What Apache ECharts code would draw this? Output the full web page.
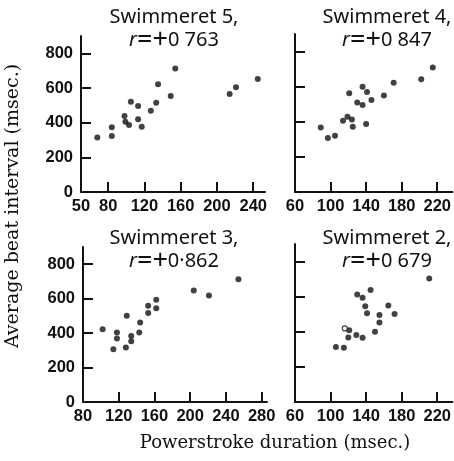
<!DOCTYPE html>
<html>
<head>
<meta charset="utf-8">
<script src="https://cdn.jsdelivr.net/npm/echarts@6.0.0/dist/echarts.min.js"></script>
<style>
  html, body { margin: 0; padding: 0; background: #fff; }
  #main { width: 454px; height: 461px; }
</style>
</head>
<body>
<div id="main"></div>
<script>
// powerstroke duration (x) vs average beat interval (y), msec
var s5x = [68, 84, 84, 98, 99, 103, 105, 113, 113, 117, 127, 133, 135, 149, 154, 214, 221, 245];
var s5y = [315, 373, 323, 438, 405, 386, 521, 496, 419, 377, 469, 515, 621, 554, 713, 565, 604, 652];
var s4x = [89, 97, 105, 114, 119, 121, 124, 125, 130, 136, 136, 141, 140, 146, 160, 171, 202, 215];
var s4y = [368, 307, 320, 406, 429, 562, 413, 371, 510, 495, 600, 570, 387, 524, 549, 623, 642, 709];
var s3x = [102, 114, 118, 118, 128, 129, 134, 134, 143, 144, 153, 153, 162, 162, 204, 221, 254];
var s3y = [423, 307, 404, 369, 316, 501, 383, 353, 404, 462, 559, 517, 594, 544, 647, 619, 713];
var s2x = [106, 115, 121, 120, 129, 136, 130, 136, 139, 141, 145, 150, 155, 155, 165, 172, 211];
var s2y = [314, 309, 408, 368, 381, 366, 613, 594, 545, 505, 638, 400, 495, 453, 550, 501, 703];
// one open circle in swimmeret 2
var s2openX = [116];
var s2openY = [419];

var titles = ['Swimmeret 5,', 'Swimmeret 4,', 'Swimmeret 3,', 'Swimmeret 2,'];
var rValues = ['0 763', '0 847', '0\u00b7862', '0 679'];

var xTicks5 = [50, 80, 120, 160, 200, 240];
var xTicks4 = [60, 100, 140, 180, 220];
var xTicks3 = [80, 120, 160, 200, 240, 280];
var xTicks2 = [60, 100, 140, 180, 220];
var yTicks = [0, 200, 400, 600, 800];

var tickFont = 'Liberation Sans';
var chart = echarts.init(document.getElementById('main'), null, { renderer: 'canvas' });

function pairs(xs, ys) {
  var out = [];
  for (var i = 0; i < xs.length; i++) out.push([xs[i], ys[i]]);
  return out;
}

var grids = [
  { left: 81, top: 36, width: 184, height: 156 },
  { left: 295, top: 34, width: 158, height: 158 },
  { left: 83, top: 247, width: 184, height: 155 },
  { left: 295, top: 244, width: 158, height: 158 }
];
var xMins = [50, 60, 80, 60];
var xMaxs = [253, 237, 286, 237];
var xTickSets = [xTicks5, xTicks4, xTicks3, xTicks2];

var lineStyle = { color: '#111', width: 2 };
var labelStyle = { color: '#111', fontSize: 16.5, fontWeight: 'bold', fontFamily: tickFont };

var xAxes = [], yAxes = [];
for (var g = 0; g < 4; g++) {
  xAxes.push({
    gridIndex: g, type: 'value', min: xMins[g], max: xMaxs[g],
    axisLine: { lineStyle: lineStyle },
    axisTick: { inside: true, length: 10, lineStyle: lineStyle, customValues: xTickSets[g].slice(1) },
    axisLabel: Object.assign({ customValues: xTickSets[g], margin: 6 }, labelStyle),
    splitLine: { show: false }
  });
  yAxes.push({
    gridIndex: g, type: 'value', min: 0, max: 900,
    axisLine: { lineStyle: lineStyle },
    axisTick: { inside: true, length: 10, lineStyle: lineStyle, customValues: yTicks.slice(1) },
    axisLabel: Object.assign({ show: g % 2 === 0, customValues: yTicks, margin: 8 }, labelStyle),
    splitLine: { show: false }
  });
}

var dot = { type: 'scatter', symbolSize: 6, itemStyle: { color: '#111' } };
var series = [
  Object.assign({}, dot, { xAxisIndex: 0, yAxisIndex: 0, data: pairs(s5x, s5y) }),
  Object.assign({}, dot, { xAxisIndex: 1, yAxisIndex: 1, data: pairs(s4x, s4y) }),
  Object.assign({}, dot, { xAxisIndex: 2, yAxisIndex: 2, data: pairs(s3x, s3y) }),
  Object.assign({}, dot, { xAxisIndex: 3, yAxisIndex: 3, data: pairs(s2x, s2y) }),
  { type: 'scatter', xAxisIndex: 3, yAxisIndex: 3, symbolSize: 5,
    itemStyle: { color: '#fff', borderColor: '#111', borderWidth: 1.2 },
    data: pairs(s2openX, s2openY) }
];

// panel titles
var titlePos = [[174, 6], [387, 6], [174, 227], [387, 227]];
var graphics = [];
for (var t = 0; t < 4; t++) {
  graphics.push({
    type: 'text', x: titlePos[t][0], y: titlePos[t][1],
    style: {
      text: '{n|' + titles[t] + '}\n{r|r}{e|=}{e|+}{v|' + rValues[t] + '}',
      textAlign: 'center',
      rich: {
        n: { fontFamily: 'Noto Sans', fontSize: 20, fill: '#111', lineHeight: 23 },
        r: { fontFamily: 'Noto Sans', fontStyle: 'italic', fontSize: 20, fill: '#111', lineHeight: 23 },
        e: { fontFamily: 'Noto Sans', fontSize: 27, fill: '#111', lineHeight: 23 },
        v: { fontFamily: 'Noto Sans', fontSize: 20, fill: '#111', lineHeight: 23 }
      }
    }
  });
}
// shared axis names
graphics.push({
  type: 'text', x: 275, y: 434,
  style: { text: 'Powerstroke duration (msec.)', textAlign: 'center', fontFamily: 'DejaVu Serif', fontSize: 18, fill: '#111' }
});
graphics.push({
  type: 'text', x: 4, y: 206, rotation: Math.PI / 2,
  style: { text: 'Average beat interval (msec.)', textAlign: 'center', textVerticalAlign: 'top', fontFamily: 'DejaVu Serif', fontSize: 19, fill: '#111' }
});

chart.setOption({
  backgroundColor: '#fff',
  animation: false,
  grid: grids,
  xAxis: xAxes,
  yAxis: yAxes,
  series: series,
  graphic: graphics
});
</script>
</body>
</html>
